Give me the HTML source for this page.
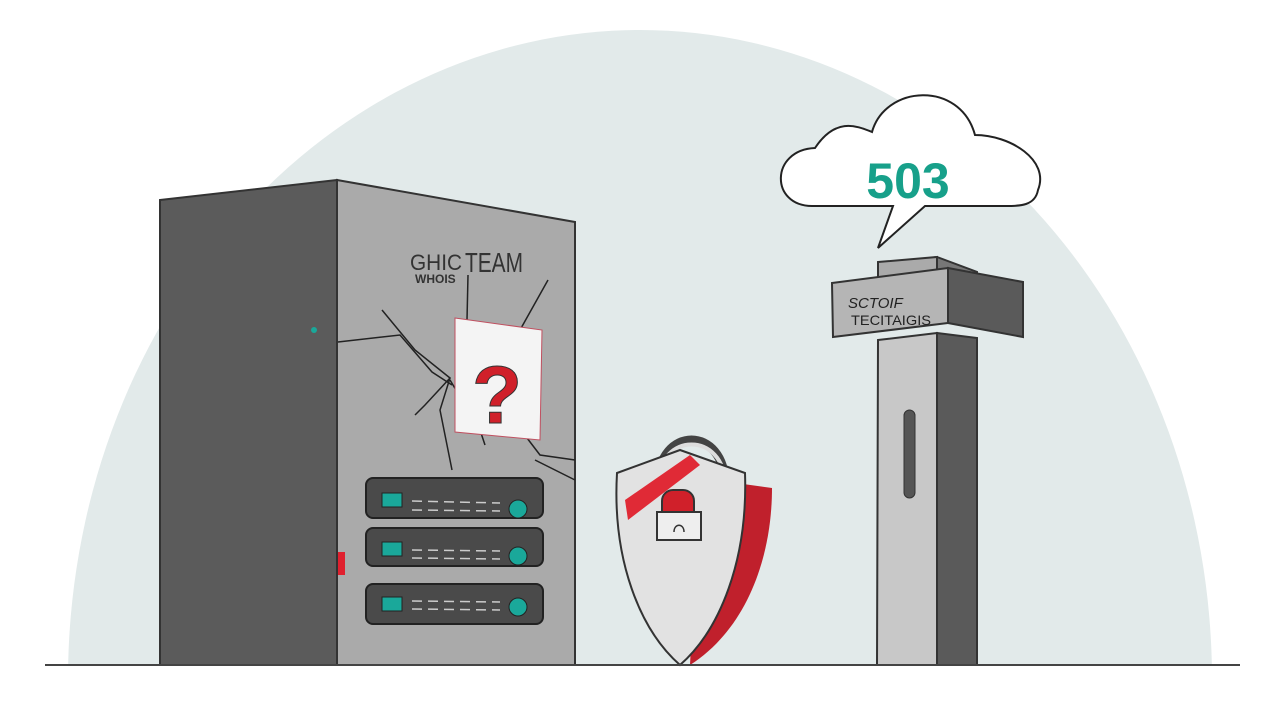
<!DOCTYPE html>
<html><head><style>html,body{margin:0;padding:0;background:#fff;width:1280px;height:720px;overflow:hidden}svg{display:block}</style></head>
<body>
<svg width="1280" height="720" viewBox="0 0 1280 720" xmlns="http://www.w3.org/2000/svg" font-family="Liberation Sans, sans-serif">
<defs><clipPath id="c"><rect x="0" y="0" width="1280" height="665"/></clipPath></defs>
<ellipse cx="640" cy="680" rx="572" ry="650" fill="#e2eaea" clip-path="url(#c)"/>
<!-- server -->
<polygon points="160,200 337,180 337,665 160,665" fill="#5b5b5b" stroke="#333" stroke-width="2"/>
<polygon points="337,180 575,222 575,665 337,665" fill="#aaaaaa" stroke="#333" stroke-width="2"/>
<circle cx="314" cy="330" r="3" fill="#1aa89a"/>
<rect x="338" y="552" width="7" height="23" fill="#e0202e"/>
<text x="410" y="270" font-size="22" fill="#333" textLength="52" lengthAdjust="spacingAndGlyphs">GHIC</text>
<text x="465" y="272" font-size="28" fill="#333" textLength="58" lengthAdjust="spacingAndGlyphs">TEAM</text>
<text x="415" y="283" font-size="12" fill="#333" font-weight="bold">WHOIS</text>
<g stroke="#222" stroke-width="1.5" fill="none">
<path d="M338,342 L400,335 L432,372 L452,385"/>
<path d="M382,310 L415,350 L450,378 L425,405 L415,415"/>
<path d="M450,378 L440,410 L452,470"/>
<path d="M450,380 L480,430 L485,445"/>
<path d="M467,320 L468,275"/>
<path d="M548,280 L520,330 L470,380"/>
<path d="M527,438 L540,455 L575,460"/>
<path d="M535,460 L575,480"/>
</g>
<polygon points="455,318 542,330 540,440 455,432" fill="#f4f4f4" stroke="#c05060" stroke-width="1"/>
<text x="497" y="423" font-size="82" font-weight="bold" fill="#d0202a" text-anchor="middle" stroke="#333" stroke-width="1">?</text>
<g>
<rect x="366" y="478" width="177" height="40" rx="7" fill="#4a4a4a" stroke="#222" stroke-width="2"/>
<rect x="366" y="528" width="177" height="38" rx="7" fill="#4a4a4a" stroke="#222" stroke-width="2"/>
<rect x="366" y="584" width="177" height="40" rx="7" fill="#4a4a4a" stroke="#222" stroke-width="2"/>
<g fill="#1aa89a" stroke="#222">
<rect x="382" y="493" width="20" height="14"/><circle cx="518" cy="509" r="9"/>
<rect x="382" y="542" width="20" height="14"/><circle cx="518" cy="556" r="9"/>
<rect x="382" y="597" width="20" height="14"/><circle cx="518" cy="607" r="9"/>
</g>
<g stroke="#ccc" stroke-width="1.5" stroke-dasharray="10,6">
<line x1="412" y1="501" x2="500" y2="503"/><line x1="412" y1="510" x2="500" y2="511"/>
<line x1="412" y1="550" x2="500" y2="551"/><line x1="412" y1="558" x2="500" y2="559"/>
<line x1="412" y1="601" x2="500" y2="602"/><line x1="412" y1="609" x2="500" y2="610"/>
</g>
</g>
<!-- shield -->
<path d="M658,485 C658,425 725,425 725,485" fill="none" stroke="#444" stroke-width="9"/>
<path d="M658,485 C658,431 725,431 725,485" fill="none" stroke="#ddd" stroke-width="4"/>
<path d="M700,478 L772,488 C772,560 745,630 690,665 Z" fill="#c0202c"/>
<path d="M617,473 L680,450 L745,473 C748,560 720,630 680,665 C640,630 612,560 617,473 Z" fill="#e2e2e2" stroke="#333" stroke-width="2"/>
<path d="M625,500 L690,455 L700,465 L628,520 Z" fill="#e02a36"/>
<rect x="662" y="490" width="32" height="40" rx="11" fill="#d0202a" stroke="#333" stroke-width="2"/>
<rect x="657" y="512" width="44" height="28" fill="#eee" stroke="#333" stroke-width="2"/>
<path d="M674,532 C674,523 684,523 684,532" fill="none" stroke="#333" stroke-width="1.5"/>
<!-- tower -->
<polygon points="878,265 937,257 977,272 977,285 878,285" fill="#777" stroke="#333" stroke-width="2"/>
<polygon points="878,262 937,257 937,285 878,285" fill="#aaa" stroke="#333" stroke-width="2"/>
<polygon points="948,268 1023,282 1023,337 948,323" fill="#5a5a5a" stroke="#333" stroke-width="2"/>
<polygon points="832,283 948,268 948,323 833,337" fill="#b5b5b5" stroke="#333" stroke-width="2"/>
<polygon points="937,333 977,338 977,665 937,665" fill="#5a5a5a" stroke="#333" stroke-width="2"/>
<polygon points="878,340 937,333 937,665 877,665" fill="#c8c8c8" stroke="#333" stroke-width="2"/>
<rect x="904" y="410" width="11" height="88" rx="5.5" fill="#555" stroke="#333"/>
<text x="848" y="308" font-size="15" fill="#222" font-style="italic">SCTOIF</text>
<text x="851" y="325" font-size="14" fill="#222" textLength="80" lengthAdjust="spacingAndGlyphs">TECITAIGIS</text>
<!-- cloud -->
<path d="M878,248 L893,206 L812,206 C770,206 770,150 815,148 C835,118 855,125 872,132 C885,85 960,80 975,135 C1010,135 1050,160 1038,190 C1035,206 1020,206 1005,206 L925,206 Z" fill="#fff" stroke="#222" stroke-width="2"/>
<text x="908" y="198" font-size="50" font-weight="bold" fill="#17a08a" text-anchor="middle">503</text>
<line x1="45" y1="665" x2="1240" y2="665" stroke="#444" stroke-width="2"/>
</svg>
</body></html>
